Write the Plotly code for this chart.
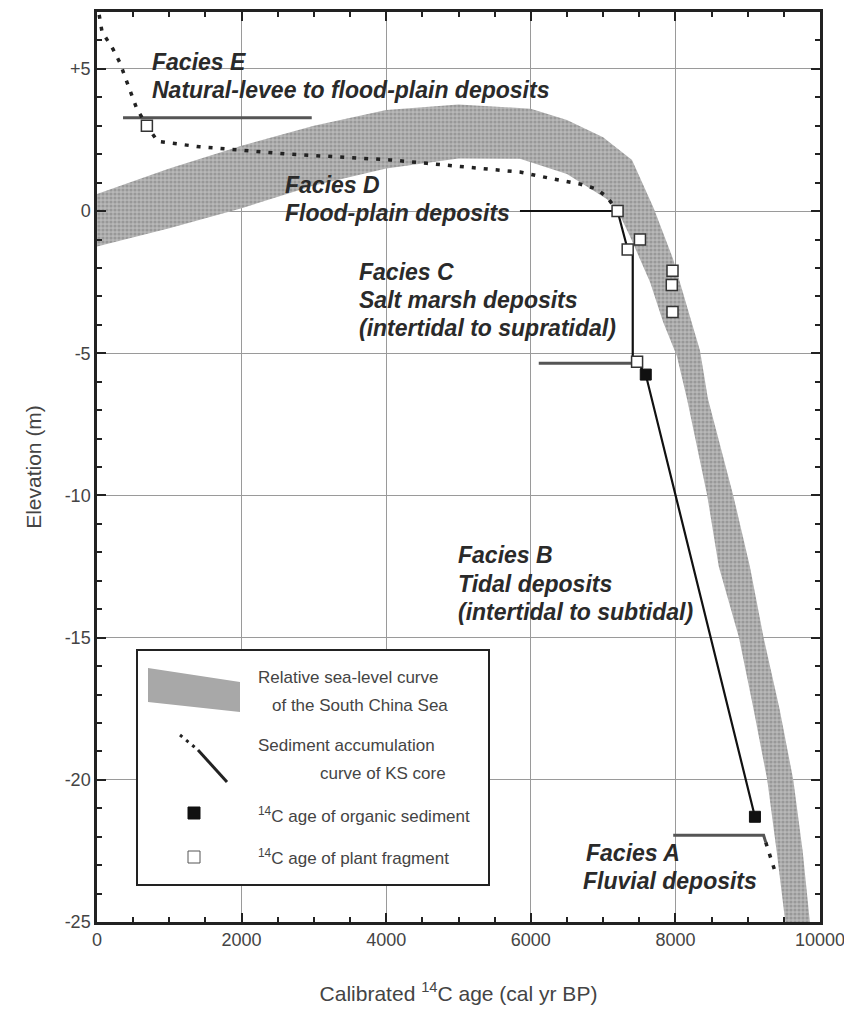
import plotly.graph_objects as go

# relative sea-level band (upper and lower edges)
sea_upper_age = [0, 1000, 2000, 3000, 4000, 5000, 6000, 6500, 7000, 7400, 7700, 7970, 8200,
                 8340, 8450, 8800, 9030, 9220, 9440, 9630, 9760, 9860, 9900]
sea_upper_elev = [0.6, 1.5, 2.3, 3.0, 3.55, 3.75, 3.6, 3.2, 2.6, 1.8, 0.1, -1.7, -3.7,
                  -4.9, -6.6, -10.0, -12.5, -15.0, -17.5, -20.0, -22.5, -25.0, -26.0]
sea_lower_age = [0, 1000, 2000, 3000, 4000, 5000, 5850, 6500, 7050, 7190, 7370, 7650, 7830,
                 8020, 8160, 8440, 8600, 8880, 9080, 9270, 9400, 9520, 9550]
sea_lower_elev = [-1.25, -0.6, 0.1, 0.9, 1.5, 1.85, 1.84, 1.3, 0.42, 0.07, -0.88, -2.5, -3.9,
                  -5.1, -6.6, -10.0, -12.5, -15.0, -17.5, -20.0, -22.5, -25.0, -26.0]

# sediment accumulation curve of KS core
sed_dot_age = [30, 70, 220, 320, 390, 480, 550, 690, 840, 1420, 2070, 2670, 3360, 4050,
               4560, 5160, 5850, 6310, 6680, 6910, 7050, 7160, 7200]
sed_dot_elev = [6.9, 6.3, 5.7, 5.2, 4.7, 4.1, 3.6, 3.0, 2.45, 2.26, 2.12, 2.0, 1.9, 1.8,
                1.68, 1.55, 1.37, 1.13, 0.95, 0.78, 0.5, 0.14, 0.0]
sed_solid_age = [7200, 7340, 7410, 7410, 7470, 7590, 9100]
sed_solid_elev = [0.0, -1.35, -1.5, -5.25, -5.3, -5.75, -21.3]
sed_tail_age = [9250, 9400]
sed_tail_elev = [-22.2, -23.4]

# 14C ages
plant_age = [690, 7200, 7510, 7340, 7960, 7950, 7960, 7470]
plant_elev = [3.0, 0.0, -1.0, -1.35, -2.1, -2.6, -3.55, -5.3]
organic_age = [7590, 9100]
organic_elev = [-5.75, -21.3]

# facies boundary lines
facies_e_age = [360, 2970]
facies_e_elev = [3.28, 3.28]
facies_d_age = [5850, 7200]
facies_d_elev = [0.0, 0.0]
facies_c_age = [6110, 7400]
facies_c_elev = [-5.35, -5.35]
facies_a_age = [7970, 9220, 9250]
facies_a_elev = [-21.95, -21.95, -22.2]

# facies labels: (age, elevation, text)
facies_labels = [
    (730, 5.25, "Facies E"),
    (730, 4.26, "Natural-levee to flood-plain deposits"),
    (2570, 0.92, "Facies D"),
    (2570, -0.07, "Flood-plain deposits"),
    (3600, -2.15, "Facies C"),
    (3600, -3.13, "Salt marsh deposits"),
    (3600, -4.12, "(intertidal to supratidal)"),
    (4965, -12.1, "Facies B"),
    (4965, -13.1, "Tidal deposits"),
    (4965, -14.1, "(intertidal to subtidal)"),
    (6730, -22.57, "Facies A"),
    (6700, -23.56, "Fluvial deposits"),
]

x_ticks = [0, 2000, 4000, 6000, 8000, 10000]
x_tick_text = ["0", "2000", "4000", "6000", "8000", "10000"]
y_ticks = [5, 0, -5, -10, -15, -20, -25]
y_tick_text = ["+5", "0", "-5", "-10", "-15", "-20", "-25"]

FONT = "Liberation Sans, Arial, sans-serif"

fig = go.Figure()

fig.add_trace(go.Scatter(
    x=sea_upper_age + sea_lower_age[::-1],
    y=sea_upper_elev + sea_lower_elev[::-1],
    mode="lines", fill="toself", line=dict(width=0),
    fillcolor="#b0b0b0",
    fillpattern=dict(shape=".", fgcolor="#777777", bgcolor="#b8b8b8", size=4, solidity=0.5),
    hoverinfo="skip",
))

boundary_style = dict(color="#555", width=3)
fig.add_trace(go.Scatter(x=facies_e_age, y=facies_e_elev, mode="lines", line=boundary_style))
fig.add_trace(go.Scatter(x=facies_c_age, y=facies_c_elev, mode="lines", line=boundary_style))
fig.add_trace(go.Scatter(x=facies_a_age, y=facies_a_elev, mode="lines", line=boundary_style))
fig.add_trace(go.Scatter(x=facies_d_age, y=facies_d_elev, mode="lines",
                         line=dict(color="#111", width=2)))

fig.add_trace(go.Scatter(x=sed_dot_age, y=sed_dot_elev, mode="lines",
                         line=dict(color="#222", width=3.5, dash="4px,8px")))
fig.add_trace(go.Scatter(x=sed_tail_age, y=sed_tail_elev, mode="lines",
                         line=dict(color="#222", width=3.5, dash="4px,8px")))
fig.add_trace(go.Scatter(x=sed_solid_age, y=sed_solid_elev, mode="lines",
                         line=dict(color="#111", width=2.2)))

fig.add_trace(go.Scatter(x=plant_age, y=plant_elev, mode="markers",
                         marker=dict(symbol="square", size=11, color="white",
                                     line=dict(color="#333", width=1.5))))
fig.add_trace(go.Scatter(x=organic_age, y=organic_elev, mode="markers",
                         marker=dict(symbol="square", size=11, color="#111",
                                     line=dict(color="#111", width=1))))

for age, elev, text in facies_labels:
    fig.add_annotation(x=age, y=elev, text="<b><i>" + text + "</i></b>", showarrow=False,
                       xanchor="left", yanchor="middle",
                       font=dict(family=FONT, size=23, color="#2a2a2a"))


# legend box drawn in page pixel positions converted to paper coordinates
def px(x):
    return (x - 97) / 723


def py(y):
    return (922 - y) / 910


fig.add_shape(type="rect", xref="paper", yref="paper",
              x0=px(137), x1=px(489), y0=py(885), y1=py(650),
              line=dict(color="#222", width=2), fillcolor="white", layer="above")
fig.add_shape(type="path", xref="paper", yref="paper",
              path=f"M {px(148)},{py(668)} L {px(240)},{py(682)} L {px(240)},{py(712)} "
                   f"L {px(148)},{py(702)} Z",
              line=dict(width=0), fillcolor="#a8a8a8", layer="above")
fig.add_shape(type="line", xref="paper", yref="paper",
              x0=px(180), y0=py(735), x1=px(198), y1=py(750),
              line=dict(color="#222", width=3, dash="3px,5px"), layer="above")
fig.add_shape(type="line", xref="paper", yref="paper",
              x0=px(198), y0=py(750), x1=px(227), y1=py(782),
              line=dict(color="#222", width=3), layer="above")
fig.add_shape(type="rect", xref="paper", yref="paper",
              x0=px(188), x1=px(200), y0=py(819), y1=py(807),
              line=dict(color="#111", width=1), fillcolor="#111", layer="above")
fig.add_shape(type="rect", xref="paper", yref="paper",
              x0=px(188), x1=px(200), y0=py(863), y1=py(851),
              line=dict(color="#555", width=1), fillcolor="white", layer="above")

legend_texts = [
    (256, 677, "Relative sea-level curve"),
    (270, 705, "of the South China Sea"),
    (256, 745, "Sediment accumulation"),
    (318, 773, "curve of KS core"),
    (256, 815, "<sup>14</sup>C age of organic sediment"),
    (256, 857, "<sup>14</sup>C age of plant fragment"),
]
for x, y, text in legend_texts:
    fig.add_annotation(xref="paper", yref="paper", x=px(x), y=py(y), text=text,
                       showarrow=False, xanchor="left", yanchor="middle",
                       font=dict(family=FONT, size=17, color="#444"))

axis_common = dict(
    showline=True, linecolor="#222", linewidth=2.5, mirror="ticks",
    ticks="inside", ticklen=9, tickwidth=1.5, tickcolor="#222",
    showgrid=True, gridcolor="#9a9a9a", gridwidth=1.2, zeroline=False,
    tickfont=dict(family=FONT, size=18, color="#444"),
    automargin=False, ticklabeloverflow="allow",
)

fig.update_xaxes(
    range=[0, 10000], tickvals=x_ticks, ticktext=x_tick_text,
    minor=dict(dtick=500, ticks="inside", ticklen=5, tickcolor="#222", showgrid=False),
    title=dict(text="Calibrated <sup>14</sup>C age (cal yr BP)", standoff=38,
               font=dict(family=FONT, size=21, color="#444")),
    **axis_common,
)
fig.update_yaxes(
    range=[-25, 7], tickvals=y_ticks, ticktext=y_tick_text,
    minor=dict(dtick=1, ticks="inside", ticklen=5, tickcolor="#222", showgrid=False),
    title=dict(text="Elevation (m)", standoff=18,
               font=dict(family=FONT, size=21, color="#444")),
    **axis_common,
)

# the page body adds an 8px margin, so the figure is offset by 8px in the window
fig.update_layout(
    width=844, height=997,
    margin=dict(l=89, r=32, t=4, b=83),
    paper_bgcolor="white", plot_bgcolor="white",
    showlegend=False,
)

fig.write_html("out.html")
